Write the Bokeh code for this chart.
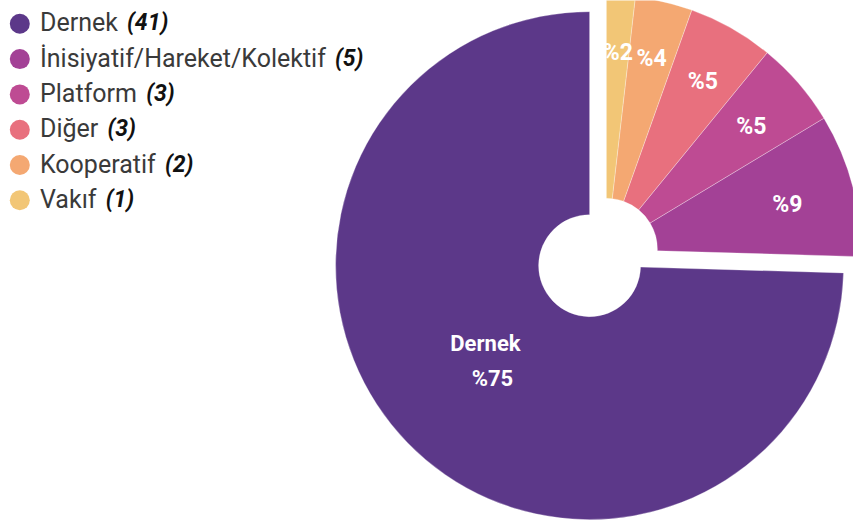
import math
import glob
from bokeh.plotting import figure
from bokeh.models import Range1d, ColumnDataSource
from bokeh.core.properties import value
from bokeh.embed import file_html
from bokeh.resources import INLINE

# ---- data ----
categories = ["Dernek", "İnisiyatif/Hareket/Kolektif", "Platform", "Diğer", "Kooperatif", "Vakıf"]
counts = [41, 5, 3, 3, 2, 1]
colors = ["#5C3889", "#A34196", "#BE4B93", "#E8707E", "#F4A872", "#F2C676"]

# ---- layout ----
W, H = 853, 524


def Y(sy):
    return H - sy


CX, CY = 597.5, Y(257)
R_OUT, R_IN = 254, 51
EXPLODE = 11.7

p = figure(width=W, height=H, x_range=Range1d(0, W), y_range=Range1d(0, H),
           output_backend="svg", toolbar_location=None, min_border=0,
           x_axis_type=None, y_axis_type=None)
p.grid.visible = False
p.outline_line_color = None
p.background_fill_color = "white"
p.border_fill_color = "white"

total = sum(counts)
fracs = [c / total for c in counts]
starts, ends = [], []
a = math.pi / 2
for f in fracs:
    starts.append(a)
    a += f * 2 * math.pi
    ends.append(a)

# group 0 = largest slice, group 1 = rest (exploded together)
groups = [0] + [1] * (len(counts) - 1)
g_start = [starts[0], starts[1]]
g_end = [ends[0], ends[-1]]
g_mid = [(s + e) / 2 for s, e in zip(g_start, g_end)]
g_cx = [CX + EXPLODE * math.cos(m) for m in g_mid]
g_cy = [CY + EXPLODE * math.sin(m) for m in g_mid]

xs = [g_cx[g] for g in groups]
ys = [g_cy[g] for g in groups]

src = ColumnDataSource(dict(x=xs, y=ys, start=starts, end=ends, color=colors))
p.annular_wedge(x="x", y="y", inner_radius=R_IN, outer_radius=R_OUT,
                start_angle="start", end_angle="end", direction="anticlock",
                fill_color="color", line_color="white", line_width=0.6, line_alpha=0.5,
                source=src)

# percent labels (small slices): elliptical label ring
pct = [round(100 * f) for f in fracs]
RX, RY = 0.733 * R_OUT, 0.787 * R_OUT
lx, ly, lt = [], [], []
for i in range(1, len(counts)):
    m = (starts[i] + ends[i]) / 2
    c, s = math.cos(m), math.sin(m)
    rr = 1.0 / math.sqrt((c / RX) ** 2 + (s / RY) ** 2)
    lx.append(xs[i] + rr * c)
    ly.append(ys[i] + rr * s)
    lt.append("%" + str(pct[i]))
p.text(x=lx, y=ly, text=lt, y_offset=3, text_color="white", text_font=value("Roboto"),
       text_font_style="bold", text_font_size="23px", text_align="center",
       text_baseline="middle")

m0 = (starts[0] + ends[0]) / 2
bx = xs[0] + 0.55 * R_OUT * math.cos(m0)
by = ys[0] + 0.55 * R_OUT * math.sin(m0)
p.text(x=[bx - 4], y=[by], text=[categories[0]], y_offset=-19.5, text_color="white",
       text_font=value("Roboto"), text_font_style="bold", text_font_size="22px",
       text_align="center", text_baseline="middle")
p.text(x=[bx + 3], y=[by], text=["%" + str(pct[0])], y_offset=15.5, text_color="white",
       text_font=value("Roboto"), text_font_style="bold", text_font_size="22px",
       text_align="center", text_baseline="middle")

# ---- legend ----
FALLBACK = {' ': .248, 'D': .655, 'e': .530, 'r': .338, 'n': .551, 'k': .507, 'İ': .272,
            'i': .243, 's': .516, 'y': .474, 'a': .543, 't': .327, 'f': .347, '/': .411,
            'H': .713, 'K': .627, 'o': .570, 'l': .243, 'P': .631, 'm': .876, 'g': .561,
            'ğ': .561, 'p': .560, 'V': .637, 'ı': .243}


def text_width(s, size):
    try:
        from PIL import ImageFont
        cands = []
        for d in ["/usr/share/fonts", "/usr/local/share/fonts", "/root/.fonts"]:
            cands += glob.glob(d + "/**/Roboto-Regular.ttf", recursive=True)
        f = ImageFont.truetype(cands[0], size)
        return f.getlength(s)
    except Exception:
        return sum(FALLBACK.get(ch, 0.52) for ch in s) * size


LEG_X = 19.3
LEG_TX = 39.5
LEG_Y0 = 23.3
LEG_DY = 35.3
LEG_FS = 25
leg_cy = [Y(LEG_Y0 + i * LEG_DY) for i in range(len(categories))]
leg_ty = [Y(LEG_Y0 + i * LEG_DY - 1) for i in range(len(categories))]

p.scatter(x=[LEG_X] * len(categories), y=leg_cy, size=20, marker="circle",
          fill_color=colors, line_color=None)
p.text(x=[LEG_TX] * len(categories), y=leg_ty, text=categories, text_color="#3a3a3a",
       text_font=value("Roboto"), text_font_size=f"{LEG_FS}px", text_align="left",
       text_baseline="middle")
cnt_x = [LEG_TX + text_width(c + " ", LEG_FS) + 3 for c in categories]
p.text(x=cnt_x, y=leg_ty, text=["(" + str(c) + ")" for c in counts], text_color="#111111",
       text_font=value("Roboto"), text_font_style="bold italic", text_font_size="23px",
       text_align="left", text_baseline="middle")

open("out.html", "w").write(file_html(p, INLINE))
